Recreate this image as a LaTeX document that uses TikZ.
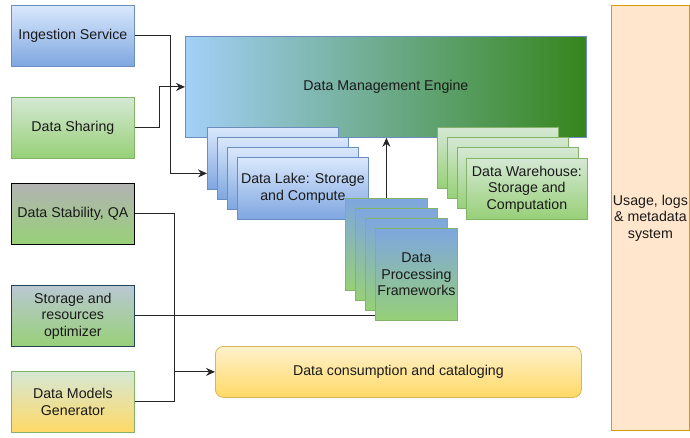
\documentclass[tikz,border=0pt]{standalone}
\usepackage{fontspec}
\setmainfont{Liberation Sans}
\usetikzlibrary{arrows.meta}
\definecolor{bluetop}{HTML}{DAE8FC}
\definecolor{bluebot}{HTML}{7EA6E0}
\definecolor{bluestroke}{HTML}{6C8EBF}
\definecolor{greentop}{HTML}{D5E8D4}
\definecolor{greenbot}{HTML}{97D077}
\definecolor{greenstroke}{HTML}{82B366}
\definecolor{graytop}{HTML}{B3B3B3}
\definecolor{slatetop}{HTML}{BAC8D3}
\definecolor{slatestroke}{HTML}{23445D}
\definecolor{yellowtop}{HTML}{FFF2CC}
\definecolor{yellowbot}{HTML}{FFD966}
\definecolor{yellowstroke}{HTML}{D6B656}
\definecolor{orangefill}{HTML}{FFE6CC}
\definecolor{orangestroke}{HTML}{D79B00}
\definecolor{dmeleft}{HTML}{A3D0F8}
\definecolor{dmeright}{HTML}{35851C}
\definecolor{txt}{HTML}{1A1A1A}
\tikzset{
  box/.style n args={2}{draw, line width=0.8pt, anchor=north west, inner sep=0pt,
    minimum width=#1, minimum height=#2, align=center, text=txt,
    font=\fontsize{14.2}{16.5}\selectfont},
  bluebox/.style={top color=bluetop, bottom color=bluebot, draw=bluestroke},
  greenbox/.style={top color=greentop, bottom color=greenbot, draw=greenstroke},
  dpfbox/.style={top color=bluebot, bottom color=greenbot, draw=greenstroke},
  conn/.style={line width=1.1pt, draw=black!85},
  arr/.style={conn, -{Stealth[length=9pt,width=8pt,inset=3pt]}},
}
\begin{document}
\begin{tikzpicture}[x=1pt,y=-1pt]
\useasboundingbox (0,0) rectangle (690,437);
% left column
\node[box={123pt}{61pt}, bluebox] (ing) at (11,5) {Ingestion Service};
\node[box={123pt}{61pt}, greenbox] (share) at (11,97) {Data Sharing};
\node[box={123pt}{61pt}, top color=graytop, bottom color=greenbot, draw=black] (stab) at (11,183) {Data Stability, QA};
\node[box={123pt}{61pt}, top color=slatetop, bottom color=greenbot, draw=slatestroke] (stor) at (11,285) {Storage and\\resources\\optimizer};
\node[box={123pt}{61pt}, top color=greentop, bottom color=yellowbot, draw=greenstroke] (models) at (11,371) {Data Models\\Generator};
% engine
\node[box={401pt}{101pt}, left color=dmeleft, right color=dmeright, draw=bluestroke] (dme) at (185,36) {Data Management Engine};
% data lake stack
\node[box={131pt}{62pt}, bluebox] (lake1) at (207,127) {};
\node[box={131pt}{62pt}, bluebox] (lake2) at (217,137) {};
\node[box={131pt}{62pt}, bluebox] (lake3) at (227,147) {};
\node[box={131pt}{62pt}, bluebox] (lake4) at (237,157) {Data Lake: Storage\\and Compute};
% warehouse stack
\node[box={121pt}{61pt}, greenbox] (wh1) at (437,127) {};
\node[box={121pt}{61pt}, greenbox] (wh2) at (447,137) {};
\node[box={121pt}{61pt}, greenbox] (wh3) at (457,147) {};
\node[box={121pt}{61pt}, greenbox] (wh4) at (466,158) {Data Warehouse:\\Storage and\\Computation};
% processing frameworks stack
\node[box={82pt}{92pt}, dpfbox] (dpf1) at (345,198) {};
\node[box={82pt}{92pt}, dpfbox] (dpf2) at (355,208) {};
\node[box={82pt}{92pt}, dpfbox] (dpf3) at (365,218) {};
\node[box={82pt}{92pt}, dpfbox] (dpf4) at (375,228) {Data\\Processing\\Frameworks};
% consumption
\node[box={366pt}{51pt}, rounded corners=8pt, top color=yellowtop, bottom color=yellowbot, draw=yellowstroke] (cons) at (215,346) {Data consumption and cataloging};
% usage
\node[box={78pt}{425pt}, fill=orangefill, draw=orangestroke] (usage) at (611,5) {Usage, logs\\\& metadata\\system};
% connectors
\draw[arr] (ing.east) -- ++(36,0) |- ([yshift=-15pt]lake1.west);
\draw[arr] (share.east) -- ++(25,0) |- (dme.west);
\draw[arr] (stab.east) -- ++(40,0) |- (cons.west);
\draw[conn] (models.east) -- ++(40,0) -- ++(0,-30);
\draw[conn] (stor.east) -- (stor.east -| dpf4.west);
\draw[arr] (dpf1.north) -- (dpf1.north |- dme.south);
\end{tikzpicture}
\end{document}
